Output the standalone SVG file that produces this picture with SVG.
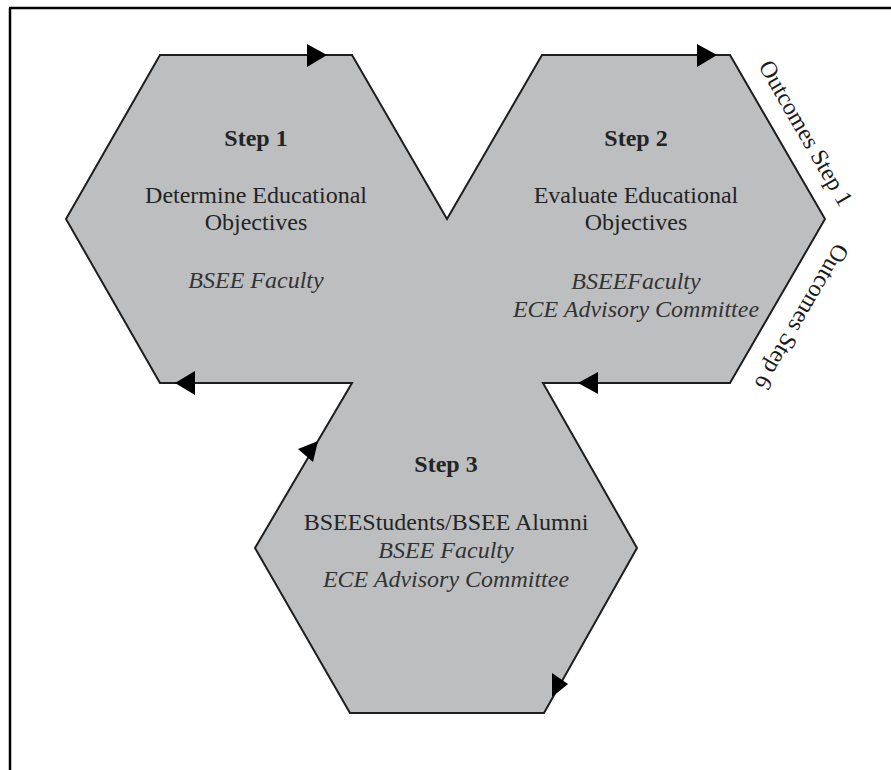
<svg xmlns="http://www.w3.org/2000/svg" width="891" height="770" viewBox="0 0 891 770">
<style>
.frame{stroke:#000;stroke-width:2.5;fill:none}
.area{fill:#bcbec0;stroke:none}
.hex{fill:#bcbec0;stroke:none}
.outline{fill:none;stroke:#1e1e1e;stroke-width:2;stroke-linejoin:miter}
.arr{fill:#000}
text{font-family:"Liberation Serif","Times New Roman",serif;font-size:24px;fill:#242424;text-anchor:middle}
.b{font-weight:bold}
.i{font-style:italic;fill:#333}
.lab{text-anchor:start;fill:#1a1a1a}
</style>
<rect width="891" height="770" fill="#fff"/>
<g id="frame">
<line class="frame" x1="10" y1="8" x2="10" y2="770"/>
<line class="frame" x1="9" y1="8" x2="891" y2="8"/>
</g>
<polygon class="area" points="160,55 352,55 447,219 542,55 730,55 825,219 730,383 543,383 637,548 544,713 350,713 255,548 352,383 160,383 66,219"/>
<g id="step1">
<polygon class="hex" points="160,55 352,55 447,219 352,383 160,383 66,219"/>
<text class="b" x="256" y="146">Step 1</text>
<text x="256" y="203">Determine Educational</text>
<text x="256" y="230">Objectives</text>
<text class="i" x="256" y="288">BSEE Faculty</text>
</g>
<g id="step2">
<polygon class="hex" points="542,55 730,55 825,219 730,383 543,383 447,219"/>
<text class="b" x="636" y="146">Step 2</text>
<text x="636" y="203">Evaluate Educational</text>
<text x="636" y="230">Objectives</text>
<text class="i" x="636" y="289">BSEEFaculty</text>
<text class="i" x="636" y="317">ECE Advisory Committee</text>
</g>
<g id="step3">
<polygon class="hex" points="352,383 543,383 637,548 544,713 350,713 255,548"/>
<text class="b" x="446" y="472">Step 3</text>
<text x="446" y="530">BSEEStudents/BSEE Alumni</text>
<text class="i" x="446" y="558">BSEE Faculty</text>
<text class="i" x="446" y="587">ECE Advisory Committee</text>
</g>
<g id="connectors">
<polygon class="outline" points="160,55 352,55 447,219 542,55 730,55 825,219 730,383 543,383 637,548 544,713 350,713 255,548 352,383 160,383 66,219"/>
<polygon class="arr" points="307,44 307,67 327,55"/>
<polygon class="arr" points="697,44 697,67 717,55"/>
<polygon class="arr" points="175,383 195,371 195,395"/>
<polygon class="arr" points="578,383 598,372 598,394"/>
<polygon class="arr" points="298,449 318,441 313,462"/>
<polygon class="arr" points="552,673 568,684 552,697"/>
</g>
<g id="labels">
<text class="lab" transform="translate(758,66) rotate(60)">Outcomes Step 1</text>
<text class="lab" transform="translate(836,242) rotate(120)">Outcomes Step 6</text>
</g>
</svg>
